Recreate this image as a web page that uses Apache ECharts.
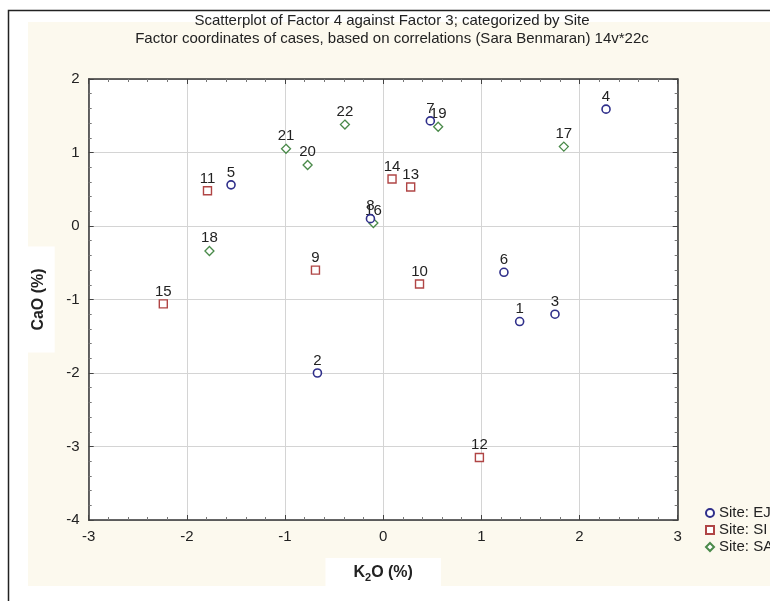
<!DOCTYPE html>
<html>
<head>
<meta charset="utf-8">
<script src="https://cdn.jsdelivr.net/npm/echarts@6/dist/echarts.min.js"></script>
<style>html,body{margin:0;padding:0;background:#fff}#c{width:770px;height:601px}</style>
</head>
<body>
<div id="c"></div>
<script>
// Data
const ejIds = ['1','2','3','4','5','6','7','8'];
const ejX = [1.39, -0.67, 1.75, 2.27, -1.55, 1.23, 0.48, -0.13];
const ejY = [-1.30, -2.00, -1.20, 1.59, 0.56, -0.63, 1.43, 0.10];

const siIds = ['9','10','11','12','13','14','15'];
const siX = [-0.69, 0.37, -1.79, 0.98, 0.28, 0.09, -2.24];
const siY = [-0.60, -0.79, 0.48, -3.15, 0.53, 0.64, -1.06];

const saIds = ['16','17','18','19','20','21','22'];
const saX = [-0.10, 1.84, -1.77, 0.56, -0.77, -0.99, -0.39];
const saY = [0.04, 1.08, -0.34, 1.35, 0.83, 1.05, 1.38];

const seriesNames = ['Site: EJ', 'Site: SI', 'Site: SA'];

function pts(ids, xs, ys) { return ids.map((id, i) => ({ name: id, value: [xs[i], ys[i]] })); }

const font = 'Liberation Sans, Arial, sans-serif';
const labelCfg = { show: true, position: 'top', distance: 0, formatter: p => p.name, fontSize: 15, color: '#222', fontFamily: font };

const chart = echarts.init(document.getElementById('c'));
const commonAxis = (min, max) => ({
  min: min, max: max, interval: 1,
  axisLine: { show: true, onZero: false, lineStyle: { color: '#333', width: 1.5 } },
  axisTick: { show: true, inside: true, length: 5, lineStyle: { color: '#444' } },
  minorTick: { show: true, splitNumber: 5, length: 3, lineStyle: { color: '#777' } }
});

chart.setOption({
  backgroundColor: '#fff',
  animation: false,
  graphic: [
    { type: 'rect', z: -20, shape: { x: 28, y: 22, width: 760, height: 564 }, style: { fill: '#fcf9ee' } },
    { type: 'polyline', z: 100, shape: { points: [[8.5, 620], [8.5, 10.5], [780, 10.5]] }, style: { stroke: '#222', lineWidth: 1.5, fill: null } }
  ],
  title: {
    text: 'Scatterplot of Factor 4 against Factor 3; categorized by Site\nFactor coordinates of cases, based on correlations (Sara Benmaran) 14v*22c',
    left: 387, textAlign: 'center', top: 7,
    textStyle: { fontSize: 15, fontWeight: 'normal', color: '#222', lineHeight: 18, fontFamily: font }
  },
  legend: {
    orient: 'vertical', left: 700, top: 500, itemGap: 1, itemWidth: 8, itemHeight: 8,
    textStyle: { fontSize: 15, color: '#222', fontFamily: font, lineHeight: 16 },
    data: seriesNames
  },
  grid: { left: 88.7, right: 92.3, top: 79, bottom: 81, show: true, backgroundColor: '#fff', borderWidth: 0 },
  xAxis: [
    Object.assign(commonAxis(-3, 3), {
      type: 'value', position: 'bottom',
      axisLabel: { fontSize: 15, color: '#222', margin: 9, fontFamily: font },
      splitLine: { show: true, lineStyle: { color: '#d4d4d4', width: 1 } },
      name: '{b|K}{s|2}{b|O (%)}', nameLocation: 'middle', nameGap: 38,
      nameTextStyle: {
        backgroundColor: '#fff', padding: [5, 28, 3, 28],
        rich: {
          b: { fontSize: 16, fontWeight: 'bold', color: '#222', fontFamily: font, lineHeight: 20 },
          s: { fontSize: 11, fontWeight: 'bold', color: '#222', fontFamily: font, padding: [9, 0, 0, 0] }
        }
      }
    }),
    Object.assign(commonAxis(-3, 3), {
      type: 'value', position: 'top', axisLabel: { show: false }, splitLine: { show: false }
    })
  ],
  yAxis: [
    Object.assign(commonAxis(-4, 2), {
      type: 'value', position: 'left',
      axisLabel: { fontSize: 15, color: '#222', margin: 9, fontFamily: font },
      splitLine: { show: true, lineStyle: { color: '#d4d4d4', width: 1 } },
      name: 'CaO (%)', nameLocation: 'middle', nameGap: 34, nameRotate: 90,
      nameTextStyle: { fontSize: 16, fontWeight: 'bold', color: '#222', fontFamily: font, backgroundColor: '#fff', padding: [10, 22, 8, 22] }
    }),
    Object.assign(commonAxis(-4, 2), {
      type: 'value', position: 'right', axisLabel: { show: false }, splitLine: { show: false }
    })
  ],
  series: [
    { name: seriesNames[0], type: 'scatter', symbol: 'circle', symbolSize: 8,
      itemStyle: { color: '#fff', borderColor: '#2f2f8a', borderWidth: 1.6, opacity: 1 },
      label: labelCfg, data: pts(ejIds, ejX, ejY), z: 5 },
    { name: seriesNames[1], type: 'scatter', symbol: 'rect', symbolSize: 8,
      itemStyle: { color: '#fff', borderColor: '#b04545', borderWidth: 1.4, opacity: 1 },
      label: labelCfg, data: pts(siIds, siX, siY), z: 4 },
    { name: seriesNames[2], type: 'scatter', symbol: 'diamond', symbolSize: 9,
      itemStyle: { color: '#fff', borderColor: '#4a8a4a', borderWidth: 1.3, opacity: 1 },
      label: labelCfg, data: pts(saIds, saX, saY), z: 3 }
  ]
});
</script>
</body>
</html>
